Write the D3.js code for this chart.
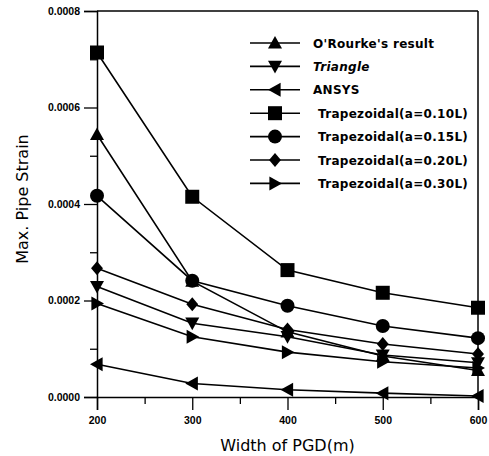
<html lang="en">
  <head>
    <meta charset="utf-8">
    <script src="https://d3js.org/d3.v7.js"></script>
    <style>
      body { margin: 0; background: #fff; }
    </style>
  </head>
  <body>
    <svg id="chart" width="489" height="456"></svg>
    <script>
      var widths = [200, 300, 400, 500, 600];

      var seriesNames = ["O'Rourke's result", "Triangle", "ANSYS",
        "Trapezoidal(a=0.10L)", "Trapezoidal(a=0.15L)", "Trapezoidal(a=0.20L)", "Trapezoidal(a=0.30L)"];

      var orourke = [0.000544, 0.000240, 0.000135, 0.000085, 0.000055];
      var triangle = [0.000229, 0.000153, 0.000125, 0.000087, 0.000071];
      var ansys = [0.000068, 0.000028, 0.000015, 0.000008, 0.000002];
      var trap10 = [0.000714, 0.000415, 0.000263, 0.000216, 0.000185];
      var trap15 = [0.000417, 0.000241, 0.000189, 0.000147, 0.000122];
      var trap20 = [0.000267, 0.000192, 0.000140, 0.000110, 0.000089];
      var trap30 = [0.000194, 0.000125, 0.000093, 0.000073, 0.000060];

      var yTicks = [0, 0.0002, 0.0004, 0.0006, 0.0008];
      var xTicks = [200, 300, 400, 500, 600];

      var allSeries = [orourke, triangle, ansys, trap10, trap15, trap20, trap30];
      var shapes = ["up", "down", "left", "square", "circle", "diamond", "right"];

      var svg = d3.select("svg#chart");
      var margin = {top: 11, right: 11, bottom: 59, left: 97};
      var width = +svg.attr("width") - margin.left - margin.right;
      var height = +svg.attr("height") - margin.top - margin.bottom;
      var g = svg.append("g").attr("transform", `translate(${margin.left}, ${margin.top})`);

      var xScale = d3.scaleLinear().domain([200, 600]).range([0, width]);
      var yScale = d3.scaleLinear().domain([0, 0.0008]).range([height, 0]);

      // frame
      g.append("line").attr("x1", 0).attr("x2", width).attr("y1", 0).attr("y2", 0)
        .attr("stroke", "#000").attr("stroke-width", 1.5);
      g.append("line").attr("x1", width).attr("x2", width).attr("y1", 0).attr("y2", height)
        .attr("stroke", "#000").attr("stroke-width", 1.5);

      // minor ticks
      var xMinor = d3.range(250, 600, 100);
      var yMinor = d3.range(0.0001, 0.0008, 0.0002);

      g.append("g")
        .attr("transform", `translate(0, ${height})`)
        .call(d3.axisBottom(xScale).tickValues(xTicks).tickSize(13).tickPadding(7).tickFormat(d3.format("d")));
      g.append("g")
        .attr("transform", `translate(0, ${height})`)
        .call(d3.axisBottom(xScale).tickValues(xMinor).tickSize(7).tickFormat(""))
        .select(".domain").remove();

      g.append("g")
        .call(d3.axisLeft(yScale).tickValues(yTicks).tickSize(13).tickPadding(4).tickFormat(d3.format(".4f")));
      g.append("g")
        .call(d3.axisLeft(yScale).tickValues(yMinor).tickSize(7).tickFormat(""))
        .select(".domain").remove();

      svg.selectAll(".domain").attr("stroke-width", 1.5);
      svg.selectAll(".tick line").attr("stroke-width", 1.3);
      svg.selectAll(".tick text")
        .attr("font-family", "Liberation Sans, Arial, sans-serif")
        .attr("font-weight", "bold")
        .attr("font-size", 10.5)
        .attr("fill", "#000");

      function symbolPath(shape, s) {
        var h = s / 2;
        if (shape === "up") return `M0,${-h}L${h},${h * 0.8}L${-h},${h * 0.8}Z`;
        if (shape === "down") return `M0,${h}L${h},${-h * 0.8}L${-h},${-h * 0.8}Z`;
        if (shape === "left") return `M${-h},0L${h * 0.8},${-h}L${h * 0.8},${h}Z`;
        if (shape === "right") return `M${h},0L${-h * 0.8},${-h}L${-h * 0.8},${h}Z`;
        if (shape === "square") return `M${-h},${-h}H${h}V${h}H${-h}Z`;
        if (shape === "diamond") return `M0,${-h}L${h * 0.85},0L0,${h}L${-h * 0.85},0Z`;
        return d3.symbol(d3.symbolCircle, Math.PI * h * h)();
      }

      var line = d3.line()
        .x((d, i) => xScale(widths[i]))
        .y(d => yScale(d));

      allSeries.forEach(function(vals, k) {
        g.append("path")
          .datum(vals)
          .attr("d", line)
          .attr("fill", "none")
          .attr("stroke", "#000")
          .attr("stroke-width", 1.6);
        g.selectAll(null)
          .data(vals)
          .enter()
          .append("path")
          .attr("transform", (d, i) => `translate(${xScale(widths[i])}, ${yScale(d)})`)
          .attr("d", symbolPath(shapes[k], 14))
          .attr("fill", "#000");
      });

      // legend
      var legend = svg.append("g").attr("transform", "translate(250, 43)");
      seriesNames.forEach(function(name, k) {
        var row = legend.append("g").attr("transform", `translate(0, ${k * 23.4})`);
        row.append("line").attr("x1", 0).attr("x2", 50).attr("y1", 0).attr("y2", 0)
          .attr("stroke", "#000").attr("stroke-width", 1.6);
        row.append("path").attr("transform", "translate(25, 0)")
          .attr("d", symbolPath(shapes[k], 14)).attr("fill", "#000");
        row.append("text")
          .attr("x", k < 3 ? 63 : 68)
          .attr("y", 4.5)
          .attr("font-family", "DejaVu Sans, Verdana, sans-serif")
          .attr("font-weight", "bold")
          .attr("font-style", k === 1 ? "italic" : "normal")
          .attr("font-size", 12)
          .attr("letter-spacing", 0.3)
          .text(name);
      });

      svg.append("text")
        .attr("x", margin.left + width / 2)
        .attr("y", 451)
        .attr("text-anchor", "middle")
        .attr("font-family", "DejaVu Sans, Verdana, sans-serif")
        .attr("font-size", 16)
        .text("Width of PGD(m)");

      svg.append("text")
        .attr("transform", `translate(28, 199) rotate(-90)`)
        .attr("text-anchor", "middle")
        .attr("font-family", "DejaVu Sans, Verdana, sans-serif")
        .attr("font-size", 16)
        .text("Max. Pipe Strain");
    </script>
  </body>
</html>
